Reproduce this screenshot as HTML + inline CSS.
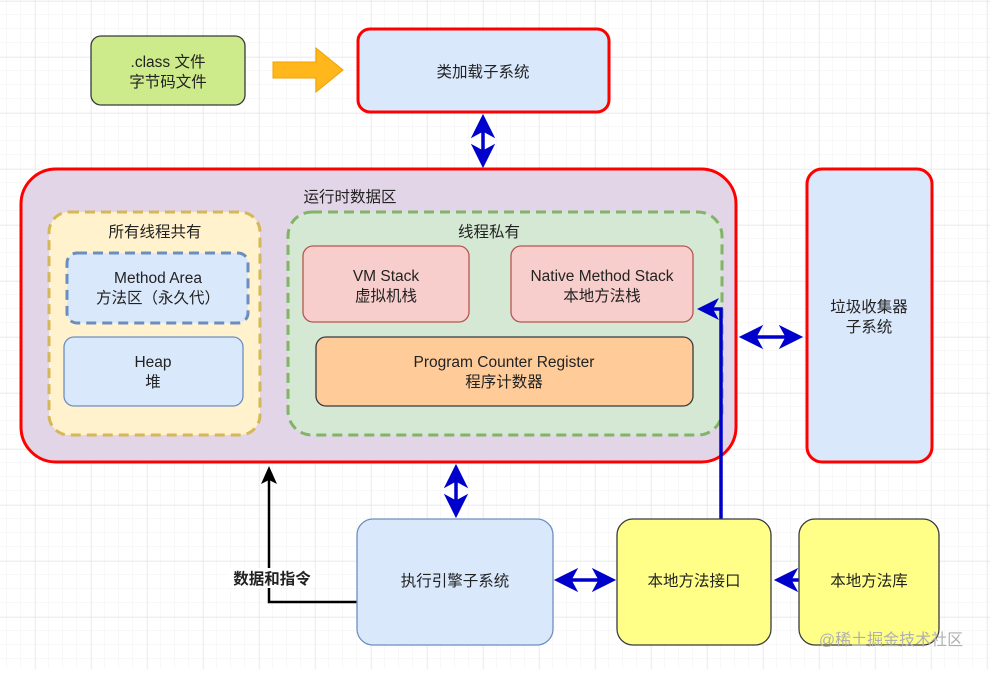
<!DOCTYPE html>
<html><head><meta charset="utf-8"><style>
body{margin:0;width:990px;height:669px;overflow:hidden;background:#fff}
svg text{font-family:"Liberation Sans","Noto Sans CJK SC",sans-serif;font-size:15.5px;fill:#222;text-anchor:middle}
</style></head><body>
<svg width="990" height="669" viewBox="0 0 990 669" xmlns="http://www.w3.org/2000/svg">
<defs>
<pattern id="mi" x="7" y="1" width="14" height="14" patternUnits="userSpaceOnUse"><path d="M14 0V14M0 14H14" stroke="#f2f2f2" stroke-width="1" fill="none"/></pattern>
<pattern id="ma" x="35" y="1" width="56" height="56" patternUnits="userSpaceOnUse"><path d="M0 0V56M0 0H56" stroke="#e0e0e0" stroke-width="1" fill="none"/></pattern>
</defs>
<rect width="990" height="669" fill="url(#mi)"/>
<rect width="990" height="669" fill="url(#ma)"/>

<rect x="91" y="36" width="154" height="69" rx="10" fill="#cdeb8b" stroke="#36393d" stroke-width="1.3"/>
<text x="168" y="67">.class 文件</text><text x="168" y="87">字节码文件</text>
<path d="M273 62H316V48L343 70L316 92V78H273Z" fill="#ffb71b" stroke="#f0a000" stroke-width="1"/>
<rect x="358" y="29" width="251" height="83" rx="12" fill="#dae8fc" stroke="#ff0000" stroke-width="3"/>
<text x="483" y="77">类加载子系统</text>
<g fill="#0000cc" stroke="#0000cc">
<line x1="483" y1="128" x2="483" y2="154" stroke-width="3.5"/>
<path d="M483 115L472 137L483 131L494 137Z"/><path d="M483 167L472 145L483 151L494 145Z"/>
<line x1="456" y1="478" x2="456" y2="504" stroke-width="3.5"/>
<path d="M456 465L445 487L456 481L467 487Z"/><path d="M456 517L445 495L456 501L467 495Z"/>
<line x1="753" y1="337" x2="789" y2="337" stroke-width="3.5"/>
<path d="M740 337L762 326L756 337L762 348Z"/><path d="M802 337L780 326L786 337L780 348Z"/>
<line x1="568" y1="580" x2="602" y2="580" stroke-width="3.5"/>
<path d="M555 580L577 569L571 580L577 591Z"/><path d="M615 580L593 569L599 580L593 591Z"/>
<line x1="788" y1="580" x2="799" y2="580" stroke-width="3.5"/>
<path d="M775 580L797 569L791 580L797 591Z"/>
</g>
<rect x="21" y="169" width="715" height="293" rx="35" fill="#e1d5e7" stroke="#ff0000" stroke-width="3"/>
<text x="350" y="202">运行时数据区</text>
<rect x="49" y="212" width="211" height="223" rx="20" fill="#fff2cc" stroke="#d6b656" stroke-width="3" stroke-dasharray="10,6"/>
<text x="155" y="237">所有线程共有</text>
<rect x="67" y="253" width="181" height="70" rx="10" fill="#dae8fc" stroke="#6c8ebf" stroke-width="3" stroke-dasharray="10,6"/>
<text x="158" y="283">Method Area</text><text x="158" y="303">方法区（永久代）</text>
<rect x="64" y="337" width="179" height="69" rx="10" fill="#dae8fc" stroke="#6c8ebf" stroke-width="1.3"/>
<text x="153" y="367">Heap</text><text x="153" y="387">堆</text>
<rect x="288" y="212" width="434" height="223" rx="24" fill="#d5e8d4" stroke="#82b366" stroke-width="3" stroke-dasharray="10,6"/>
<text x="489" y="237">线程私有</text>
<rect x="303" y="246" width="166" height="76" rx="10" fill="#f8cecc" stroke="#b85450" stroke-width="1.3"/>
<text x="386" y="281">VM Stack</text><text x="386" y="301">虚拟机栈</text>
<rect x="511" y="246" width="182" height="76" rx="10" fill="#f8cecc" stroke="#b85450" stroke-width="1.3"/>
<text x="602" y="281">Native Method Stack</text><text x="602" y="301">本地方法栈</text>
<rect x="316" y="337" width="377" height="69" rx="10" fill="#ffcc99" stroke="#36393d" stroke-width="1.3"/>
<text x="504" y="367">Program Counter Register</text><text x="504" y="387">程序计数器</text>
<rect x="807" y="169" width="125" height="293" rx="15" fill="#dae8fc" stroke="#ff0000" stroke-width="3"/>
<text x="869" y="312">垃圾收集器</text><text x="869" y="332">子系统</text>
<polyline points="721,519 721,309 712,309" fill="none" stroke="#0000cc" stroke-width="3.5"/>
<path d="M697 309L719 298L713 309L719 320Z" fill="#0000cc"/>
<polyline points="357,602 269,602 269,480" fill="none" stroke="#000" stroke-width="2.5"/>
<path d="M269 466L261 484L269 480L277 484Z" fill="#000"/>
<rect x="229" y="568" width="86" height="20" fill="#fff"/>
<text x="272" y="584" style="font-weight:bold">数据和指令</text>
<rect x="357" y="519" width="196" height="126" rx="16" fill="#dae8fc" stroke="#6c8ebf" stroke-width="1.3"/>
<text x="455" y="586">执行引擎子系统</text>
<rect x="617" y="519" width="154" height="126" rx="16" fill="#ffff88" stroke="#36393d" stroke-width="1.3"/>
<text x="694" y="586">本地方法接口</text>
<rect x="799" y="519" width="140" height="126" rx="16" fill="#ffff88" stroke="#36393d" stroke-width="1.3"/>
<text x="869" y="586">本地方法库</text>
<text x="891" y="645" style="fill:#b0b0b0;font-size:16px">@稀土掘金技术社区</text>
</svg>
</body></html>
